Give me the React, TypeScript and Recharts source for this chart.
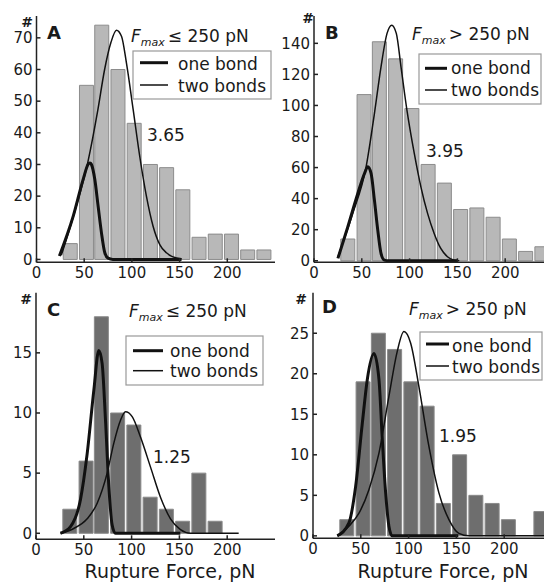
import React from "react"
import { ComposedChart, Bar, Line, XAxis, YAxis } from "recharts"

// histogram bin centres (pN) shared by all panels
const BINS = [35, 52, 68, 85, 102, 119, 136, 153, 170, 187, 204, 221, 238]

const COUNTS_A = [5, 55, 74, 60, 43, 30, 29, 22, 7, 8, 8, 3, 3]
const COUNTS_B = [14, 107, 141, 130, 98, 62, 50, 33, 34, 28, 14, 6, 9]
const COUNTS_C = [2, 6, 18, 10, 9, 3, 2, 1, 5, 1]
const COUNTS_D = [2, 19, 25, 23, 19, 16, 4, 10, 5, 4, 2, 0, 3]

// fitted curves as [force, count]
const ONE_A = [[24, 1.1], [38.5, 13.7], [48.9, 25.3], [54, 30], [56, 30.5], [57.6, 30], [61.1, 25.3], [64.6, 16.8], [68.1, 8.4], [71.6, 2.1], [75, 0.4], [80, 0], [152, 0]]
const TWO_A = [[26, 1.3], [40, 15], [54, 31], [64.4, 47.4], [71.4, 60], [78, 68.5], [83.8, 72.4], [89.1, 70.5], [94.3, 62], [101.3, 47.4], [108.2, 32.6], [115.2, 20], [122.2, 10.5], [129.2, 4.7], [136.2, 2.1], [143.1, 0.8], [152, 0.2]]

const ONE_B = [[25, 1.5], [35.4, 21.9], [45.8, 43.3], [52.8, 56.2], [56.3, 60.5], [59.7, 56.2], [63.2, 39], [66.7, 19.7], [70.1, 4.7], [73.6, 0.4], [78, 0], [150, 0]]
const TWO_B = [[25, 2.6], [40.6, 30.5], [54.5, 60.5], [63.2, 94.8], [70.1, 124.9], [76.4, 146.4], [81.3, 151.7], [86.1, 146.4], [91, 124.9], [97.2, 97], [104.9, 69.1], [111.8, 47.6], [118.8, 30.5], [125.7, 17.6], [132.6, 7.9], [139.6, 2.6], [146.5, 0.4], [152, 0]]

const ONE_C = [[25.6, 0], [36.1, 0.55], [46.5, 2.8], [53.5, 6.6], [60.5, 11.9], [65.7, 15.2], [69.2, 14.1], [72.7, 9.4], [76.2, 3.9], [79.6, 0.7], [83.1, 0], [151, 0]]
const TWO_C = [[25.6, 0], [39.5, 0.4], [53.5, 1.2], [64, 2.5], [74.4, 5], [81.4, 7.5], [88.4, 9.4], [93.6, 10.1], [100.6, 9.7], [109.3, 8], [119.8, 5.5], [130.2, 3], [140.7, 1.2], [151.1, 0.3], [161.6, 0], [212, 0]]

const ONE_D = [[25.4, 0], [37.6, 1.6], [44.6, 6.1], [51.6, 13.9], [56.8, 19.3], [63.8, 22.5], [69, 19.3], [72.5, 11.9], [76, 5.3], [79.4, 1.2], [82.9, 0], [152, 0]]
const TWO_D = [[25.4, 0], [37.6, 1.2], [48.1, 2.8], [58.5, 5.7], [69, 10.2], [79.4, 17.2], [88.2, 22.8], [95.1, 25.2], [102.1, 23.8], [110.8, 18.4], [121.3, 11], [131.7, 5.3], [142.2, 2], [152.6, 0.3], [163, 0], [245, 0]]

const X_TICKS = [0, 50, 100, 150, 200]
const Y_TICKS_A = [0, 10, 20, 30, 40, 50, 60, 70]
const Y_TICKS_B = [0, 20, 40, 60, 80, 100, 120, 140]
const Y_TICKS_C = [0, 5, 10, 15]
const Y_TICKS_D = [0, 5, 10, 15, 20, 25]

const FONT = "DejaVu Sans"
const tickStyle = { fontSize: 15, fill: "#1a1a1a", fontFamily: FONT }
const blank = () => ""

const toPts = (arr: number[][]) => arr.map(([x, y]) => ({ x, y }))

type PanelProps = {
  left: number
  top: number
  height: number
  plotLeft: number
  plotTop: number
  plotRight: number
  plotBottom: number
  yDomain: number[]
  yTicks: number[]
  counts: number[]
  one: number[][]
  two: number[][]
  barFill: string
  barStroke: string
  xTickMargin: number
}

function Panel(p: PanelProps) {
  const width = 300
  const data = p.counts.map((c, i) => ({ x: BINS[i], count: c }))
  const yW = p.plotLeft - p.left
  const mRight = p.left + width - p.plotRight
  const mTop = p.plotTop - p.top
  const xH = p.top + p.height - p.plotBottom
  const frame = { stroke: "#222", strokeWidth: 1.5 }
  return (
    <div style={{ position: "absolute", left: p.left, top: p.top }}>
      <ComposedChart width={width} height={p.height} data={data}
        margin={{ top: mTop, right: mRight, bottom: 0, left: 0 }}>
        <XAxis dataKey="x" type="number" domain={[0, 250]} allowDataOverflow ticks={X_TICKS}
          height={xH} tickSize={-4} tickMargin={p.xTickMargin} tick={tickStyle}
          axisLine={frame} tickLine={frame} interval={0} />
        {/* top frame axis; the fitted curves hang off it so the bars keep their width */}
        <XAxis xAxisId="t" dataKey="x" orientation="top" type="number" domain={[0, 250]} allowDataOverflow
          ticks={X_TICKS} height={0} tickSize={-4} tickFormatter={blank}
          axisLine={frame} tickLine={frame} interval={0} />
        <YAxis type="number" domain={p.yDomain} allowDataOverflow ticks={p.yTicks} width={yW}
          tickSize={-4} tickMargin={8} tick={tickStyle} axisLine={frame} tickLine={frame} interval={0} />
        <YAxis yAxisId="r" orientation="right" type="number" domain={p.yDomain} allowDataOverflow
          ticks={p.yTicks} width={0} tickSize={-4} tickFormatter={blank}
          axisLine={frame} tickLine={frame} interval={0} />
        <Bar dataKey="count" barSize={14} fill={p.barFill} stroke={p.barStroke} strokeWidth={1}
          isAnimationActive={false} />
        <Line xAxisId="t" data={toPts(p.two)} dataKey="y" type="monotone" stroke="#111" strokeWidth={1.5}
          dot={false} isAnimationActive={false} />
        <Line xAxisId="t" data={toPts(p.one)} dataKey="y" type="monotone" stroke="#111" strokeWidth={3}
          dot={false} isAnimationActive={false} />
      </ComposedChart>
    </div>
  )
}

type NoteProps = {
  hashX: number
  hashY: number
  letter: string
  letterX: number
  letterY: number
  fX: number
  fY: number
  op: string
  box: number[]
  lineX: number[]
  lineY: number[]
  textX: number
  textY: number[]
  value: string
  valueX: number
  valueY: number
}

function Notes(n: NoteProps) {
  const [bx, by, bw, bh] = n.box
  return (
    <g fontFamily={FONT} fill="#1a1a1a">
      <text x={n.hashX} y={n.hashY} fontSize={14} fontWeight="bold" textAnchor="middle">#</text>
      <text x={n.letterX} y={n.letterY} fontSize={18} fontWeight="bold">{n.letter}</text>
      <text x={n.fX} y={n.fY} fontSize={17}>
        <tspan fontStyle="italic">F</tspan>
        <tspan fontStyle="italic" fontSize={11} dy={4}>max</tspan>
        <tspan dy={-4} dx={3}>{n.op} 250 pN</tspan>
      </text>
      <rect x={bx} y={by} width={bw} height={bh} fill="#fff" stroke="#999" strokeWidth={1.2} />
      <line x1={n.lineX[0]} x2={n.lineX[1]} y1={n.lineY[0]} y2={n.lineY[0]} stroke="#111" strokeWidth={3} />
      <line x1={n.lineX[0]} x2={n.lineX[1]} y1={n.lineY[1]} y2={n.lineY[1]} stroke="#111" strokeWidth={1.5} />
      <text x={n.textX} y={n.textY[0]} fontSize={17}>one bond</text>
      <text x={n.textX} y={n.textY[1]} fontSize={17}>two bonds</text>
      <text x={n.valueX} y={n.valueY} fontSize={17}>{n.value}</text>
    </g>
  )
}

export default function App() {
  return (
    <div style={{ position: "absolute", left: 0, top: 0, width: 544, height: 582, overflow: "hidden", background: "#fff" }}>
      <Panel left={0} top={0} height={290} plotLeft={36.5} plotTop={16} plotRight={275} plotBottom={262.3}
        yDomain={[-0.9, 76.9]} yTicks={Y_TICKS_A} counts={COUNTS_A} one={ONE_A} two={TWO_A}
        barFill="#b8b8b8" barStroke="#8c8c8c" xTickMargin={9} />
      <Panel left={278} top={0} height={290} plotLeft={314} plotTop={16} plotRight={553} plotBottom={262.3}
        yDomain={[-1, 157.6]} yTicks={Y_TICKS_B} counts={COUNTS_B} one={ONE_B} two={TWO_B}
        barFill="#b8b8b8" barStroke="#8c8c8c" xTickMargin={9} />
      <Panel left={0} top={280} height={302} plotLeft={36} plotTop={292.7} plotRight={275} plotBottom={539.3}
        yDomain={[-0.5, 20]} yTicks={Y_TICKS_C} counts={COUNTS_C} one={ONE_C} two={TWO_C}
        barFill="#6e6e6e" barStroke="#8a8a8a" xTickMargin={9} />
      <Panel left={278} top={280} height={302} plotLeft={313} plotTop={292.7} plotRight={552} plotBottom={538.3}
        yDomain={[-0.3, 30]} yTicks={Y_TICKS_D} counts={COUNTS_D} one={ONE_D} two={TWO_D}
        barFill="#6e6e6e" barStroke="#8a8a8a" xTickMargin={9} />
      <svg width={544} height={582} style={{ position: "absolute", left: 0, top: 0, pointerEvents: "none" }}>
        <Notes hashX={27} hashY={27} letter="A" letterX={47} letterY={39} fX={131} fY={41.7} op="≤"
          box={[133, 51, 138, 48]} lineX={[140, 168]} lineY={[62.7, 85]} textX={178} textY={[70, 92]}
          value="3.65" valueX={147} valueY={141} />
        <Notes hashX={308} hashY={23} letter="B" letterX={325} letterY={39} fX={412} fY={40} op=">"
          box={[419, 54, 122, 50]} lineX={[425, 447]} lineY={[68.3, 90]} textX={451} textY={[74, 96]}
          value="3.95" valueX={426} valueY={157} />
        <Notes hashX={26} hashY={304} letter="C" letterX={47} letterY={316} fX={129} fY={316.7} op="≤"
          box={[126, 336, 137, 49]} lineX={[133, 163]} lineY={[350.7, 370.7]} textX={170} textY={[357, 377]}
          value="1.25" valueX={153} valueY={463} />
        <Notes hashX={301} hashY={304} letter="D" letterX={322} letterY={313} fX={409} fY={315} op=">"
          box={[420, 332, 122, 48]} lineX={[426, 449]} lineY={[344, 366]} textX={452} textY={[352, 373]}
          value="1.95" valueX={439} valueY={442} />
        <g fontFamily={FONT} fontSize={19} fill="#1a1a1a" textAnchor="middle">
          <text x={170} y={577.5}>Rupture Force, pN</text>
          <text x={443} y={577.5}>Rupture Force, pN</text>
        </g>
      </svg>
    </div>
  )
}
